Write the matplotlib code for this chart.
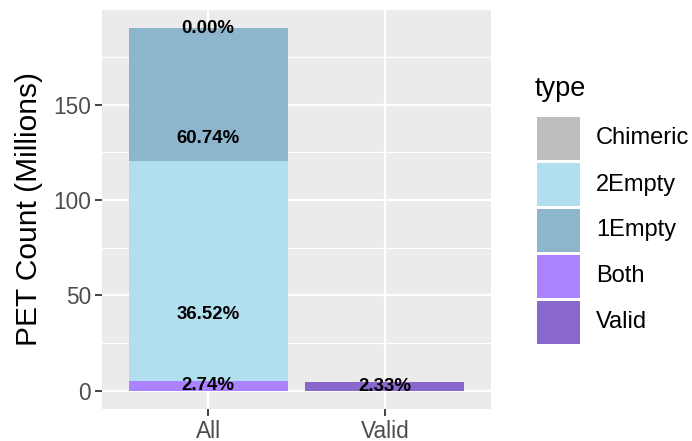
import matplotlib
matplotlib.use("Agg")
import matplotlib.pyplot as plt
from matplotlib.patches import Rectangle
import numpy as np

plt.rcParams['font.family'] = ['Liberation Sans', 'DejaVu Sans']

categories = ["All", "Valid"]
types = ["Chimeric", "2Empty", "1Empty", "Both", "Valid"]
colors = {"Chimeric": "#BEBEBE", "2Empty": "#B2DFEE", "1Empty": "#8DB6CD",
          "Both": "#AB82FF", "Valid": "#8968CD"}
# values in millions per category (stack order bottom->top: Valid, Both, 2Empty, 1Empty, Chimeric)
values = {
    "All":   {"Valid": 0.0, "Both": 5.2, "2Empty": 115.4, "1Empty": 69.4, "Chimeric": 0.0},
    "Valid": {"Valid": 4.4, "Both": 0.0, "2Empty": 0.0, "1Empty": 0.0, "Chimeric": 0.0},
}
stack_order = ["Valid", "Both", "2Empty", "1Empty", "Chimeric"]
# percentage labels (as in the original, stacked in a different order)
label_order = ["Valid", "Both", "1Empty", "2Empty", "Chimeric"]
labels = {
    "All":   {"Both": "2.74%", "1Empty": "36.52%", "2Empty": "60.74%", "Chimeric": "0.00%"},
    "Valid": {"Valid": "2.33%"},
}

W, H = 692, 441
fig = plt.figure(figsize=(W / 100, H / 100), dpi=100)
ax = fig.add_axes([102 / W, (H - 409) / H, 389 / W, 399 / H])
ax.set_facecolor("#EBEBEB")
for s in ax.spines.values():
    s.set_visible(False)

xs = np.arange(1, len(categories) + 1)
for x, cat in zip(xs, categories):
    bottom = 0.0
    for t in stack_order:
        v = values[cat][t]
        if v > 0:
            ax.bar(x, v, bottom=bottom, width=0.9, color=colors[t], zorder=2, linewidth=0)
        bottom += v
    # labels stacked with their own order
    bottom = 0.0
    for t in label_order:
        v = values[cat][t]
        if t in labels[cat]:
            ax.text(x, bottom + v / 2, labels[cat][t], ha="center", va="center",
                    fontsize=13.4, fontweight="bold", color="black", zorder=3)
        bottom += v

ax.set_xlim(0.4, 2.6)
ax.set_ylim(-9.5, 199.5)
ax.set_xticks(xs)
ax.set_xticklabels(categories)
ax.set_yticks([0, 50, 100, 150])
ax.set_yticks([25, 75, 125, 175], minor=True)
ax.grid(True, which="major", color="white", linewidth=1.6, zorder=0)
ax.grid(True, which="minor", axis="y", color="white", linewidth=0.8, zorder=0)
ax.set_axisbelow(True)
ax.tick_params(axis="both", which="major", length=5, width=1.3, color="#333333",
               labelsize=16.3, labelcolor="#4D4D4D", pad=3)
ax.tick_params(axis="y", which="minor", length=0)
ax.set_ylabel("PET Count (Millions)", fontsize=21.5, color="black", labelpad=7)

# legend drawn manually (ggplot style)
fig.text(535 / W, 1 - 89 / H, "type", fontsize=19.5, ha="left", va="center")
key_w, key_h, gap = 43, 43, 3
top = 117
for i, t in enumerate(types):
    y0 = top + i * (key_h + gap)
    fig.add_artist(Rectangle((537 / W, 1 - (y0 + key_h) / H), key_w / W, key_h / H,
                             transform=fig.transFigure, facecolor=colors[t],
                             edgecolor="none"))
    fig.text(596 / W, 1 - (y0 + key_h / 2) / H, t, fontsize=17, ha="left", va="center")

fig.savefig("out.png", dpi=100)
